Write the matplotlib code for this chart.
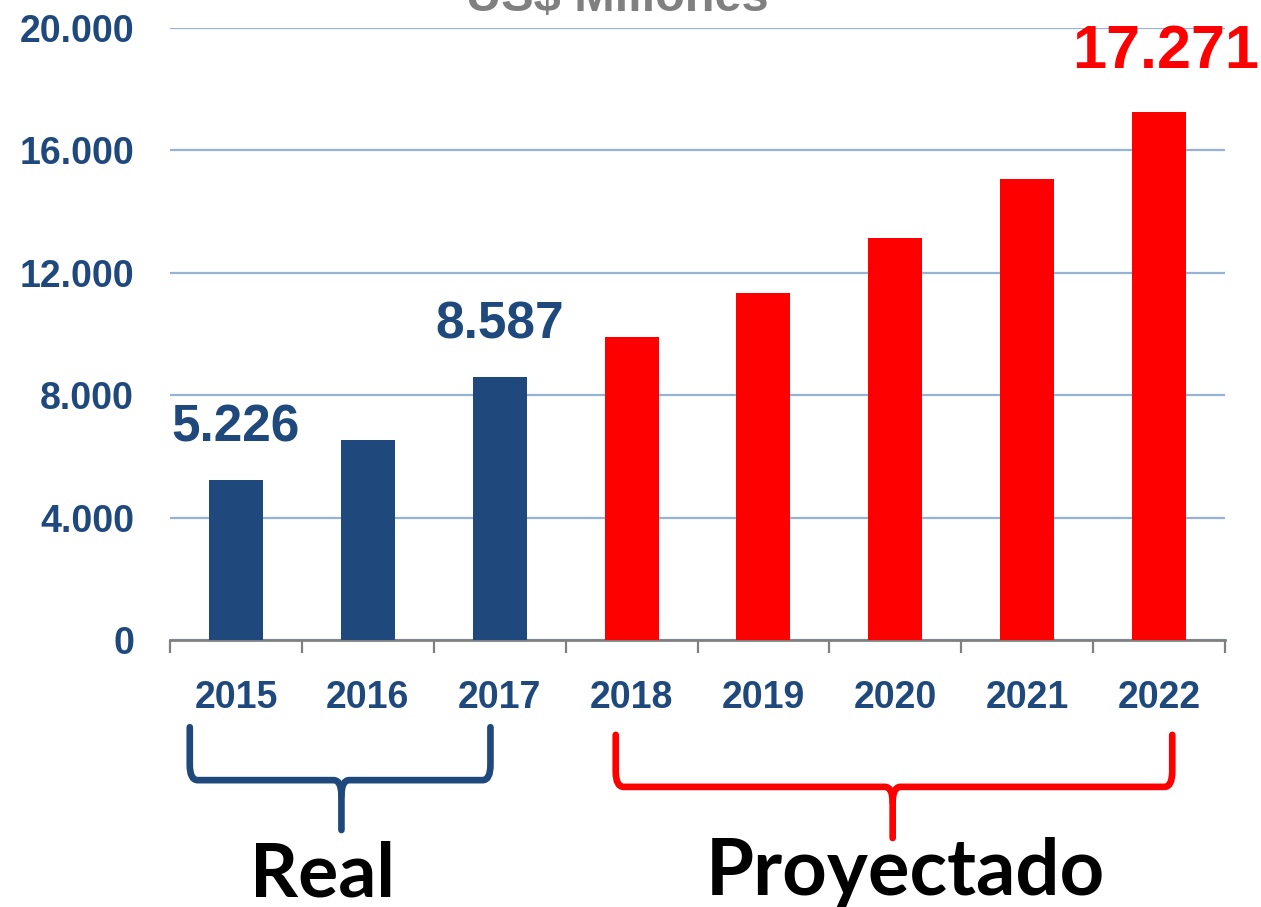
import numpy as np
import matplotlib
matplotlib.use("Agg")
from matplotlib import pyplot as plt
from matplotlib.path import Path
from matplotlib.patches import PathPatch

# data
years = ["2015", "2016", "2017", "2018", "2019", "2020", "2021", "2022"]
values = [5226, 6550, 8587, 9900, 11350, 13130, 15060, 17271]
is_real = [True, True, True, False, False, False, False, False]
value_labels = {0: "5.226", 2: "8.587", 7: "17.271"}
y_ticks = [0, 4000, 8000, 12000, 16000, 20000]
y_tick_labels = ["0", "4.000", "8.000", "12.000", "16.000", "20.000"]
group_names = ["Real", "Proyectado"]

BLUE = "#1F497D"
RED = "#FF0000"
GRAY = "#808080"
GRID = "#95B3D7"

plt.rcParams['font.family'] = ['Liberation Sans', 'DejaVu Sans']

fig = plt.figure(figsize=(12.61, 9.07), dpi=100)
ax = fig.add_axes([170/1261, 1 - 640/907, (1225-170)/1261, 612/907])

x = np.arange(len(years))
colors = [BLUE if r else RED for r in is_real]
ax.bar(x, values, width=0.41, color=colors, zorder=3)

ax.set_xlim(-0.5, len(years) - 0.5)
ax.set_ylim(0, 20000)
ax.set_yticks(y_ticks)
ax.set_yticklabels(y_tick_labels, fontsize=27, fontweight='bold', color=BLUE)
ax.tick_params(axis='y', length=0, pad=26)
ax.yaxis.grid(True, color=GRID, linewidth=1.6, zorder=0)
ax.set_axisbelow(True)

ax.set_xticks(x)
ax.set_xticklabels(years, fontsize=27, fontweight='bold', color=BLUE)
ax.tick_params(axis='x', which='major', length=0, pad=29)
ax.set_xticks(np.arange(-0.5, len(years)), minor=True)
ax.tick_params(axis='x', which='minor', length=9, width=1.6, color=GRAY, direction='out')

for s in ['top', 'right', 'left']:
    ax.spines[s].set_visible(False)
ax.spines['bottom'].set_color(GRAY)
ax.spines['bottom'].set_linewidth(2)

# value labels
for i, txt in value_labels.items():
    if is_real[i]:
        ax.text(x[i], values[i] + 900, txt, ha='center', va='bottom',
                fontsize=37, fontweight='bold', color=BLUE)
    else:
        ax.text(x[i] + 0.05, values[i] + 1000, txt, ha='center', va='bottom',
                fontsize=44, fontweight='bold', color=RED, clip_on=False)

# title, cut off at the top edge like the original slide
fig.text(617/1261, 1 - 11/907, "US$ Millones", ha='center', va='baseline',
         fontsize=35, fontweight='bold', color=GRAY)


def bracket(x0, x1, xc, ytop, yh, ytip, color):
    dx = 0.06
    dy = 500
    verts = [(x0, ytop), (x0, yh + dy), (x0, yh), (x0 + dx, yh),
             (xc - dx, yh), (xc, yh), (xc, yh - dy), (xc, ytip)]
    codes = [Path.MOVETO, Path.LINETO, Path.CURVE3, Path.CURVE3,
             Path.LINETO, Path.CURVE3, Path.CURVE3, Path.LINETO]
    verts2 = [(x1, ytop), (x1, yh + dy), (x1, yh), (x1 - dx, yh),
              (xc + dx, yh), (xc, yh), (xc, yh - dy)]
    codes2 = [Path.MOVETO, Path.LINETO, Path.CURVE3, Path.CURVE3,
              Path.LINETO, Path.CURVE3, Path.CURVE3]
    for v, c in [(verts, codes), (verts2, codes2)]:
        p = PathPatch(Path(v, c), fill=False, edgecolor=color, linewidth=4.8,
                      capstyle='round', joinstyle='round', clip_on=False)
        ax.add_patch(p)


bracket(-0.35, 1.93, 0.80, -2850, -4580, -6210, BLUE)
bracket(2.88, 7.10, 4.98, -3100, -4800, -6470, RED)

fig.text(323/1261, 1 - 875/907, group_names[0], ha='center', va='center',
         fontsize=54, fontweight='bold', family=['Lato', 'DejaVu Sans'], color='black')
fig.text(905/1261, 1 - 873/907, group_names[1], ha='center', va='center',
         fontsize=56, fontweight='bold', family=['Lato', 'DejaVu Sans'], color='black')

fig.savefig("out.png", dpi=100)
